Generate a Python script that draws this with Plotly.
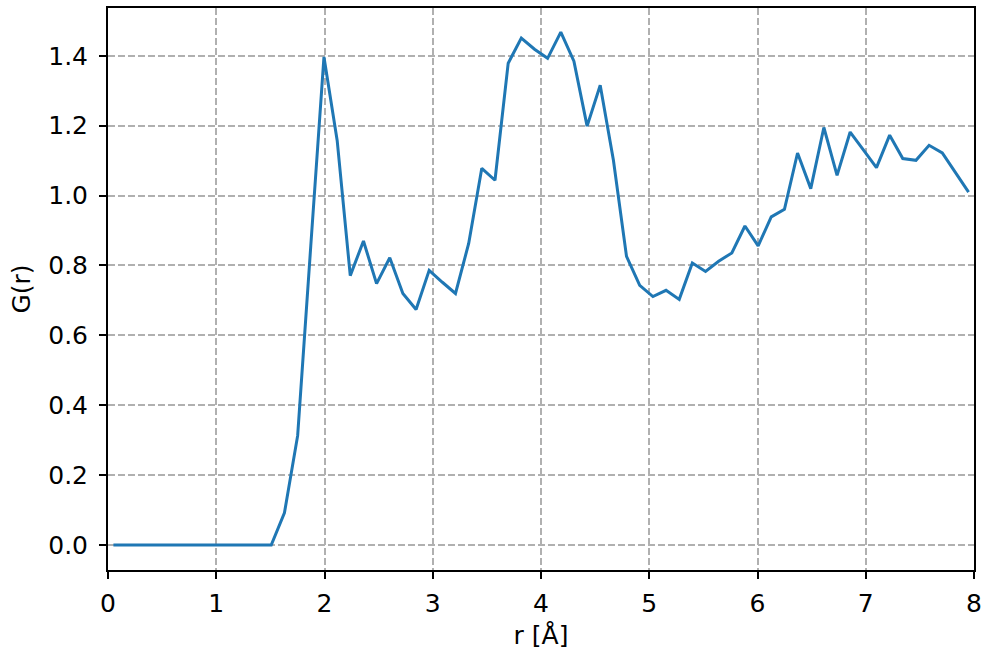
import plotly.graph_objects as go

# r values [Å]
r = [0.050, 0.172, 0.293, 0.415, 0.536, 0.658, 0.779, 0.901, 1.022, 1.144,
     1.265, 1.387, 1.508, 1.630, 1.752, 1.873, 1.995, 2.117, 2.238, 2.360,
     2.481, 2.603, 2.724, 2.846, 2.967, 3.089, 3.210, 3.332, 3.453, 3.575,
     3.697, 3.818, 3.940, 4.061, 4.183, 4.304, 4.426, 4.547, 4.669, 4.790,
     4.912, 5.034, 5.155, 5.277, 5.398, 5.520, 5.641, 5.763, 5.884, 6.006,
     6.127, 6.249, 6.370, 6.492, 6.613, 6.735, 6.856, 6.978, 7.099, 7.221,
     7.342, 7.464, 7.585, 7.707, 7.828, 7.950]

# G(r) values
g = [0.0, 0.0, 0.0, 0.0, 0.0, 0.0, 0.0, 0.0, 0.0, 0.0,
     0.0, 0.0, 0.0, 0.092, 0.313, 0.855, 1.397, 1.158, 0.771, 0.870,
     0.748, 0.822, 0.720, 0.674, 0.786, 0.752, 0.720, 0.863, 1.078, 1.044,
     1.379, 1.451, 1.419, 1.393, 1.468, 1.385, 1.199, 1.316, 1.101, 0.826,
     0.743, 0.711, 0.729, 0.703, 0.807, 0.783, 0.812, 0.836, 0.913, 0.856,
     0.939, 0.961, 1.122, 1.020, 1.195, 1.058, 1.182, 1.131, 1.080, 1.173,
     1.106, 1.101, 1.144, 1.122, 1.067, 1.010]

x_ticks = [0, 1, 2, 3, 4, 5, 6, 7, 8]
y_ticks = [0.0, 0.2, 0.4, 0.6, 0.8, 1.0, 1.2, 1.4]

fig = go.Figure()
fig.add_trace(go.Scatter(x=r, y=g, mode="lines",
                         line=dict(color="#1f77b4", width=3)))

font = dict(family="DejaVu Sans", size=25, color="black")
axis_common = dict(
    showline=True, mirror=True, linecolor="black", linewidth=2,
    ticks="outside", ticklen=7, tickwidth=1.5, tickcolor="black",
    showgrid=True, gridcolor="#b0b0b0", gridwidth=1.5, griddash="7px,3px",
    zeroline=False, tickfont=font, automargin=False,
)

fig.update_layout(
    width=983, height=650,
    margin=dict(l=108, r=9, t=8, b=80),
    paper_bgcolor="white", plot_bgcolor="white",
    showlegend=False,
    font=font,
    xaxis=dict(range=[0, 8], tickvals=x_ticks, ticklabelstandoff=3,
               title=dict(text="r [Å]", font=font, standoff=11),
               **axis_common),
    yaxis=dict(range=[-0.0716, 1.537], tickvals=y_ticks, tickformat=".1f",
               ticklabelstandoff=6,
               title=dict(text="G(r)", font=font, standoff=10),
               **axis_common),
)

fig.write_html("out.html")
